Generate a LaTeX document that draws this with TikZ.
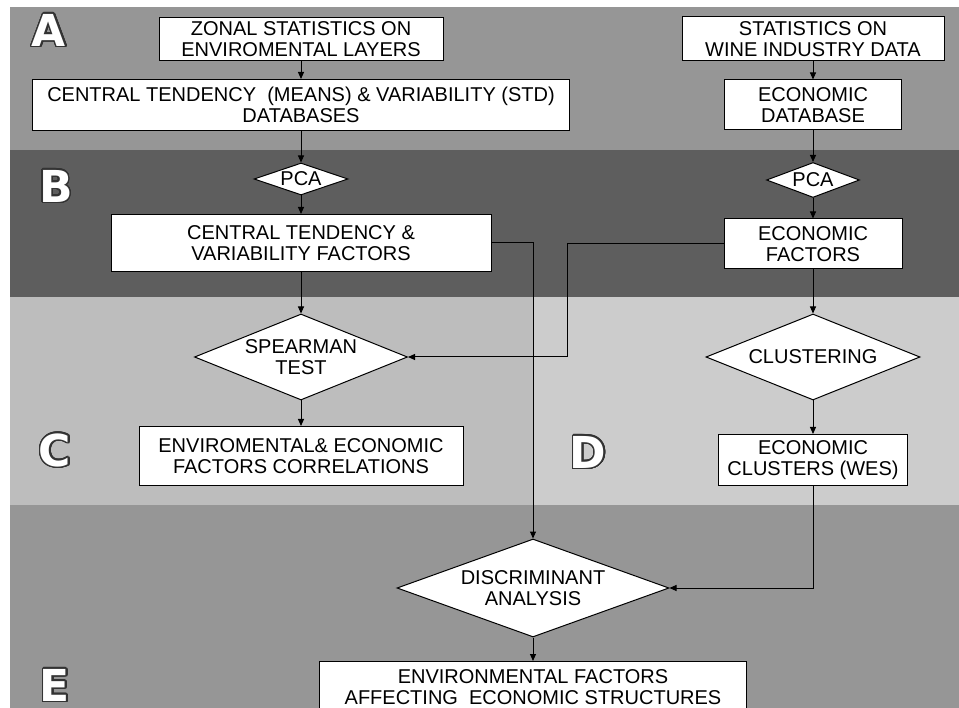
\documentclass[tikz,border=0pt]{standalone}
\usepackage{fontspec}
\setmainfont{Liberation Sans}
\newfontfamily\lettfont{DejaVu Sans}
\usepackage{contour}
\contourlength{1.4pt}
\contournumber{32}
\usetikzlibrary{shapes.geometric,arrows.meta}

\definecolor{bandA}{gray}{0.59}
\definecolor{bandB}{gray}{0.37}
\definecolor{bandC}{gray}{0.74}
\definecolor{bandD}{gray}{0.80}

\tikzset{
  box/.style={draw, fill=white, line width=1pt, align=center, inner sep=2pt,
    font=\fontsize{20}{21}\selectfont},
  dia/.style={diamond, draw, fill=white, line width=1pt, align=center, inner sep=0pt,
    font=\fontsize{20}{21}\selectfont},
  arr/.style={-{Triangle[length=7pt,width=6pt]}, line width=1pt},
  lett/.style={font=\lettfont\bfseries\fontsize{44}{44}\selectfont, text=white, inner sep=0pt}
}

\begin{document}
\begin{tikzpicture}[x=1pt,y=-1pt]
\useasboundingbox (0,0) rectangle (959,708);
% background bands
\fill[bandA] (10,7) rectangle (959,150);
\fill[bandB] (10,150) rectangle (959,297);
\fill[bandC] (10,297) rectangle (533,505);
\fill[bandD] (533,297) rectangle (959,505);
\fill[bandA] (10,505) rectangle (959,708);

% band letters
\node[lett] (la) at (49,31) {\contour{black!80}{A}};
\node[lett] (lb) at (56,187) {\contour{black!80}{B}};
\node[lett] (lc) at (55,451) {\contour{black!80}{C}};
\node[lett] (ld) at (588,453) {\contour{black!80}{D}};
\node[lett] (le) at (55,686) {\contour{black!80}{E}};

% left column
\node[box, minimum width=284pt, minimum height=43pt] (zonal) at (301,39) {ZONAL STATISTICS ON\\ENVIROMENTAL LAYERS};
\node[box, minimum width=537pt, minimum height=51pt] (cdb) at (301,105) {CENTRAL TENDENCY\ \ (MEANS) \& VARIABILITY (STD)\\DATABASES};
\node[dia, minimum width=94pt, minimum height=32pt, aspect=2.9] (pcal) at (301,179) {PCA};
\node[box, minimum width=380pt, minimum height=57pt] (ctf) at (301,243) {CENTRAL TENDENCY \&\\VARIABILITY FACTORS};
\node[dia, minimum width=213pt, minimum height=86pt, aspect=2.48] (spear) at (301,357) {SPEARMAN\\TEST};
\node[box, minimum width=324pt, minimum height=59pt] (corr) at (301,456) {ENVIROMENTAL\& ECONOMIC\\FACTORS CORRELATIONS};

% right column
\node[box, minimum width=262pt, minimum height=44pt] (wine) at (813,39) {STATISTICS ON\\WINE INDUSTRY DATA};
\node[box, minimum width=177pt, minimum height=50pt] (edb) at (813,105) {ECONOMIC\\DATABASE};
\node[dia, minimum width=93pt, minimum height=35pt, aspect=2.66] (pcar) at (813,180) {PCA};
\node[box, minimum width=178pt, minimum height=50pt] (ef) at (813,244) {ECONOMIC\\FACTORS};
\node[dia, minimum width=214pt, minimum height=86pt, aspect=2.5] (clus) at (813,357) {CLUSTERING};
\node[box, minimum width=189pt, minimum height=51pt] (ecl) at (813,460) {ECONOMIC\\CLUSTERS (WES)};

% bottom
\node[dia, minimum width=272pt, minimum height=98pt, aspect=2.78] (disc) at (533,588) {DISCRIMINANT\\ANALYSIS};
\node[box, minimum width=427pt, minimum height=52pt, anchor=north] (env) at (533,661) {ENVIRONMENTAL FACTORS\\AFFECTING\ \ ECONOMIC STRUCTURES};

% connectors
\draw[arr] (zonal) -- (cdb);
\draw[arr] (cdb) -- (pcal);
\draw[arr] (pcal) -- (ctf);
\draw[arr] (ctf) -- (spear);
\draw[arr] (spear) -- (corr);
\draw[arr] (wine) -- (edb);
\draw[arr] (edb) -- (pcar);
\draw[arr] (pcar) -- (ef);
\draw[arr] (ef) -- (clus);
\draw[arr] (clus) -- (ecl);
\coordinate (efbend) at (567,244);
\draw[arr] (ef.west) -- (efbend) |- (spear.east);
\draw[arr] (ctf.east) -| (disc.north);
\draw[arr] (ecl.south) |- (disc.east);
\draw[arr] (disc) -- (env);
\end{tikzpicture}
\end{document}
